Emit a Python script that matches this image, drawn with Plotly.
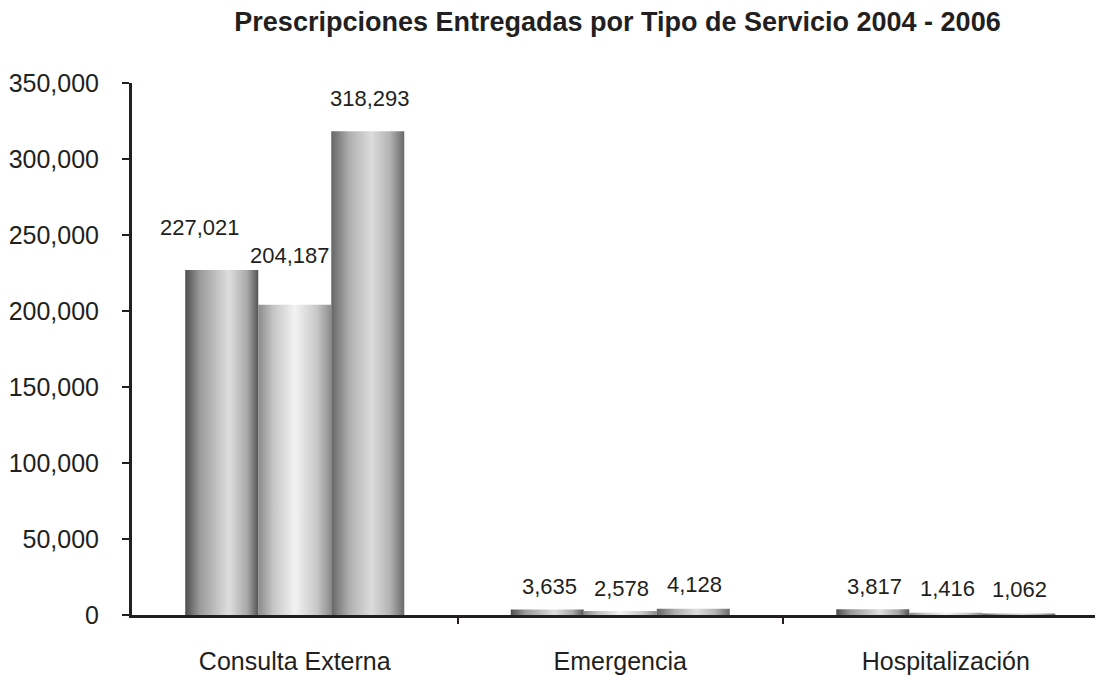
import plotly.graph_objects as go

categories = ["Consulta Externa", "Emergencia", "Hospitalización"]
years = ["2004", "2005", "2006"]
values_2004 = [227021, 3635, 3817]
values_2005 = [204187, 2578, 1416]
values_2006 = [318293, 4128, 1062]
y_ticks = [0, 50000, 100000, 150000, 200000, 250000, 300000, 350000]

series = [values_2004, values_2005, values_2006]
gradients = [
    [[0, "#4e4e4e"], [0.2, "#9a9a9a"], [0.6, "#dedede"], [0.85, "#a8a8a8"], [1, "#555555"]],
    [[0, "#8a8a8a"], [0.2, "#c4c4c4"], [0.5, "#f3f3f3"], [0.8, "#c8c8c8"], [1, "#8c8c8c"]],
    [[0, "#666666"], [0.25, "#b0b0b0"], [0.55, "#dcdcdc"], [0.8, "#b4b4b4"], [1, "#6a6a6a"]],
]
# label pixel offsets per [category][year] (style only)
label_dx = [[-22, -5, 2], [2, 1.5, 1], [2, 1.5, 1]]
label_dy = [[42, 49, 33], [23, 23, 24], [22.5, 24, 24]]

font = dict(family="Liberation Sans, Arial, sans-serif", color="#231f20")
bar_w = 0.2243
fig = go.Figure()
annotations = []
for j, vals in enumerate(series):
    for i, v in enumerate(vals):
        x0 = i + (j - 1.5) * bar_w
        x1 = x0 + bar_w
        fig.add_trace(go.Scatter(
            x=[x0, x1, x1, x0, x0], y=[0, 0, v, v, 0],
            mode="none", fill="toself",
            fillgradient=dict(type="horizontal", colorscale=gradients[j], start=x0, stop=x1),
            hoverinfo="skip", showlegend=False, name=years[j],
        ))
        annotations.append(dict(
            x=(x0 + x1) / 2, y=v, xref="x", yref="y", text=f"{v:,}",
            showarrow=False, xshift=label_dx[i][j], yshift=label_dy[i][j],
            font=dict(size=22, **font),
        ))

fig.add_trace(go.Scatter(x=[-0.5, 2.48], y=[None, None], xaxis="x2", mode="none",
                         hoverinfo="skip", showlegend=False))

H = 667
fig.update_layout(
    width=1095, height=H,
    margin=dict(l=124, r=0, t=75, b=57),
    paper_bgcolor="white", plot_bgcolor="white",
    title=dict(text="<b>Prescripciones Entregadas por Tipo de Servicio 2004 - 2006</b>",
               x=0.5, xref="paper", xanchor="center", yref="container",
               y=1 - 14 / H, yanchor="middle",
               font=dict(size=27, **font)),
    annotations=annotations,
    xaxis=dict(range=[-0.5, 2.483], tickvals=[0, 1, 2], ticktext=categories,
               showline=True, linecolor="#231f20", linewidth=3, ticks="",
               ticklabelstandoff=22,
               showgrid=False, zeroline=False, tickfont=dict(size=25, **font)),
    xaxis2=dict(overlaying="x", matches="x", anchor="y", side="bottom",
                tickvals=[0.5, 1.5, 2.5], ticks="outside", ticklen=8, tickwidth=2,
                tickcolor="#231f20", showticklabels=False, showline=False,
                showgrid=False, zeroline=False),
    yaxis=dict(range=[0, 350000], tickvals=y_ticks, tickformat=",",
               showline=True, linecolor="#231f20", linewidth=3,
               ticks="outside", ticklen=7, tickwidth=2, tickcolor="#231f20",
               ticklabelstandoff=18, showgrid=False, zeroline=False,
               tickfont=dict(size=25, **font)),
)

fig.write_html("out.html")
